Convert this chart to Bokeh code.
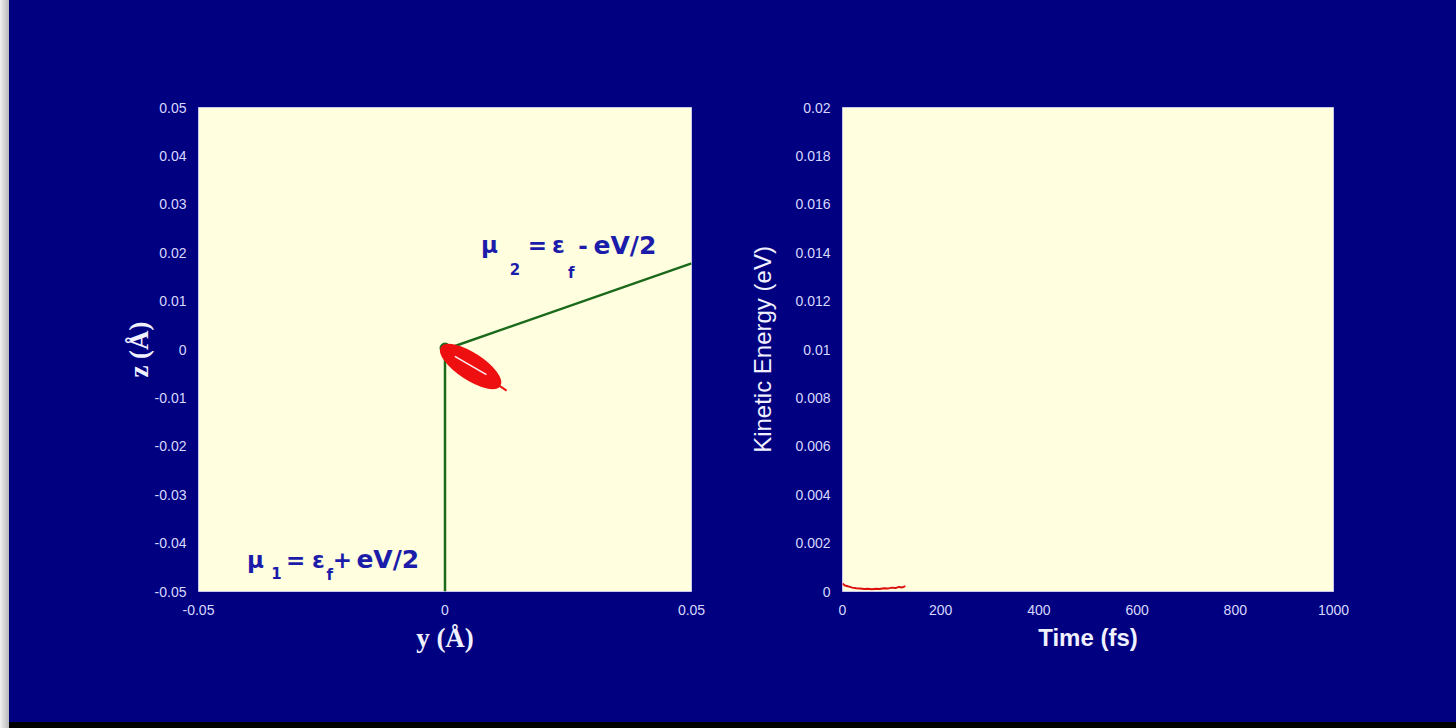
from bokeh.plotting import figure
from bokeh.layouts import row, column
from bokeh.models import Div, FixedTicker, Label, Range1d
from bokeh.embed import file_html
from bokeh.resources import INLINE

# ---- data ----
# left panel: lead geometry (y, z in Å)
lead_y = [0.0, 0.0, 0.05]
lead_z = [-0.05, 0.0, 0.0178]
dot_y = [0.0]
dot_z = [0.0003]
# trajectory envelope (ellipse) centre, sizes, angle
traj_cy = [0.0052]
traj_cz = [-0.0035]
traj_w = [0.0140]
traj_h = [0.0052]
traj_ang = [-0.58]
tail_y = [0.0088, 0.0125]
tail_z = [-0.0060, -0.0085]
inner_y = [0.0020, 0.0084]
inner_z = [-0.0014, -0.0052]

# right panel: kinetic energy vs time
time_fs = [0, 5, 12, 20, 28, 36, 44, 52, 60, 68, 76, 84, 92, 100, 108, 115, 122, 128]
ke_ev = [0.00033, 0.00025, 0.00021, 0.00016, 0.00013, 0.00012, 0.00010, 0.00011,
         0.00009, 0.00011, 0.00010, 0.00013, 0.00012, 0.00016, 0.00014, 0.00019,
         0.00017, 0.00022]

left_y_ticks = [-0.05, -0.04, -0.03, -0.02, -0.01, 0, 0.01, 0.02, 0.03, 0.04, 0.05]
left_x_ticks = [-0.05, 0, 0.05]
right_y_ticks = [0, 0.002, 0.004, 0.006, 0.008, 0.01, 0.012, 0.014, 0.016, 0.018, 0.02]
right_x_ticks = [0, 200, 400, 600, 800, 1000]

NAVY = "#000080"
FRAME = "#ffffe0"
TICKC = "#d8d8ff"
BLUE = "#1c1caa"


def fmt(v):
    s = ("%g" % v)
    if v != 0 and abs(v) < 1:
        s = ("%.3f" % v).rstrip("0")
    return s


def style(p, xt, yt):
    p.background_fill_color = FRAME
    p.border_fill_color = NAVY
    p.outline_line_color = "#c8c8e8"
    p.grid.grid_line_color = None
    for ax in (p.xaxis[0], p.yaxis[0]):
        ax.axis_line_color = None
        ax.major_tick_line_color = None
        ax.minor_tick_line_color = None
        ax.major_label_text_color = TICKC
        ax.major_label_text_font = "Liberation Sans"
        ax.major_label_text_font_size = "14px"
        ax.axis_label_text_color = "#f0f0ff"
    p.xaxis[0].ticker = FixedTicker(ticks=xt)
    p.yaxis[0].ticker = FixedTicker(ticks=yt)
    p.xaxis[0].major_label_overrides = {t: fmt(t) for t in xt}
    p.yaxis[0].major_label_overrides = {t: fmt(t) for t in yt}
    p.xaxis[0].major_label_standoff = 7
    p.yaxis[0].major_label_standoff = 6


# ---- left figure ----
p1 = figure(width=719, height=722, output_backend="svg", toolbar_location=None,
            x_range=Range1d(-0.05, 0.05), y_range=Range1d(-0.05, 0.05),
            min_border_left=189, min_border_right=37, min_border_top=107, min_border_bottom=131,
            margin=0)
style(p1, left_x_ticks, left_y_ticks)
p1.xaxis[0].axis_label = "y (Å)"
p1.yaxis[0].axis_label = "z (Å)"
for ax in (p1.xaxis[0], p1.yaxis[0]):
    ax.axis_label_text_font = "Liberation Serif"
    ax.axis_label_text_font_style = "bold"
    ax.axis_label_text_font_size = "27px"
p1.xaxis[0].axis_label_standoff = 5
p1.yaxis[0].axis_label_standoff = -2

p1.line(lead_y, lead_z, line_color="#1b6a1b", line_width=2.5)
p1.scatter(dot_y, dot_z, size=10, color="#1b6a1b")
p1.ellipse(x=traj_cy, y=traj_cz, width=traj_w, height=traj_h, angle=traj_ang,
           fill_color="#ee1010", line_color="#ee1010", line_width=2)
p1.line(tail_y, tail_z, line_color="#ee1010", line_width=2)
p1.line(inner_y, inner_z, line_color="#fff0f0", line_width=1.5)


def put(p, x, y, t, size):
    p.add_layout(Label(x=x, y=y, text=t, text_color=BLUE, text_font="DejaVu Sans",
                       text_font_size=size, text_font_style="bold",
                       text_baseline="middle", text_align="center"))


BIG, SUB = "23px", "15px"
# mu_2 = eps_f - eV/2
put(p1, 0.00900, 0.0215, "μ", BIG)
put(p1, 0.01420, 0.0167, "2", SUB)
put(p1, 0.01876, 0.0215, "=", BIG)
put(p1, 0.02301, 0.0215, "ε", BIG)
put(p1, 0.02560, 0.0159, "f", SUB)
put(p1, 0.02800, 0.0215, "-", BIG)
put(p1, 0.03650, 0.0215, "eV/2", "25px")
# mu_1 = eps_f + eV/2
put(p1, -0.03844, -0.04339, "μ", BIG)
put(p1, -0.03418, -0.04628, "1", SUB)
put(p1, -0.03032, -0.04339, "=", BIG)
put(p1, -0.02567, -0.04339, "ε", BIG)
put(p1, -0.02340, -0.04669, "f", SUB)
put(p1, -0.02080, -0.04339, "+", BIG)
put(p1, -0.01160, -0.04339, "eV/2", "25px")

# ---- right figure ----
p2 = figure(width=728, height=722, output_backend="svg", toolbar_location=None,
            x_range=Range1d(0, 1000), y_range=Range1d(0, 0.02),
            min_border_left=114, min_border_right=123, min_border_top=107, min_border_bottom=131,
            margin=0)
style(p2, right_x_ticks, right_y_ticks)
p2.xaxis[0].axis_label = "Time (fs)"
p2.yaxis[0].axis_label = "Kinetic Energy (eV)"
p2.xaxis[0].axis_label_text_font = "Liberation Sans"
p2.xaxis[0].axis_label_text_font_style = "bold"
p2.xaxis[0].axis_label_text_font_size = "24px"
p2.yaxis[0].axis_label_text_font = "Liberation Sans"
p2.yaxis[0].axis_label_text_font_style = "normal"
p2.yaxis[0].axis_label_text_font_size = "24px"
p2.xaxis[0].axis_label_standoff = 6
p2.yaxis[0].axis_label_standoff = 16
p2.line(time_fs, ke_ev, line_color="#dd1010", line_width=2)

strip = Div(width=9, height=728, margin=0,
            styles={"background": "linear-gradient(90deg,#f0f0f0,#b8b8b8)"})
bottom = Div(width=1447, height=6, margin=0, styles={"background": "#000000"})
inner = column(row(p1, p2, spacing=0, margin=0), bottom, spacing=0, margin=0,
               styles={"background": NAVY})
layout = row(strip, inner, spacing=0, margin=0, styles={"background": NAVY})

open("out.html", "w").write(file_html(layout, INLINE))
